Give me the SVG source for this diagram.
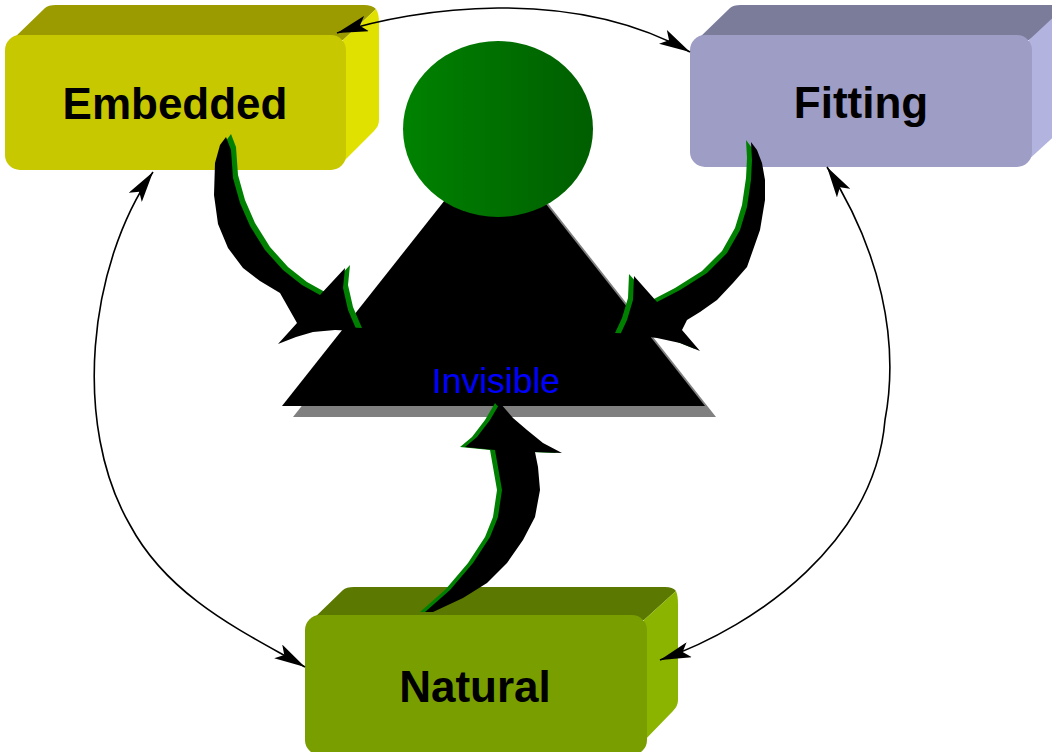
<svg xmlns="http://www.w3.org/2000/svg" width="1052" height="752" viewBox="0 0 1052 752">
  <style>
    .lbl { font-family: "Liberation Sans", Arial, sans-serif; font-weight: bold; font-size: 44px; fill: #000; text-anchor: middle; }
    .inv { font-family: "Liberation Sans", Arial, sans-serif; font-size: 35.5px; fill: #0000FF; text-anchor: middle; }
    .conn { fill: none; stroke: #000; stroke-width: 1.6; marker-start: url(#ah); marker-end: url(#ah); }
    .green { fill: #008000; }
    .black { fill: #000; }
  </style>
  <defs>
    <marker id="ah" viewBox="0 0 31 16" refX="31" refY="8" markerWidth="31" markerHeight="16" orient="auto-start-reverse" markerUnits="userSpaceOnUse">
      <path d="M31,8 L0,0 L7,8 L0,16 Z" fill="#000"/>
    </marker>
    <linearGradient id="ball" x1="0" y1="0" x2="1" y2="0">
      <stop offset="0" stop-color="#008200"/>
      <stop offset="1" stop-color="#005E00"/>
    </linearGradient>
  </defs>
  <rect width="1052" height="752" fill="#fff"/>

  <g id="invisible">
    <polygon points="293,417 505,149 716,417" fill="#808080"/>
    <polygon points="282,406 494,138 705,406" fill="#000"/>
    <ellipse cx="498" cy="129" rx="95" ry="88" fill="url(#ball)"/>
    <text class="inv" x="496" y="393">Invisible</text>
  </g>

  <g id="embedded">
    <path d="M12,40 L45,8 Q48,5 56,5 L364,5 Q372,5 376,9 L343,40 Z" fill="#9B9B00"/>
    <path d="M343,40 L376,9 Q379,14 379,22 L379,120 Q379,126 374,131 L340,165 Z" fill="#E1E100"/>
    <rect x="5" y="35" width="341" height="135" rx="15" fill="#C8C800"/>
    <text class="lbl" x="175" y="119">Embedded</text>
  </g>

  <g id="fitting">
    <path d="M697,40 L730,8 Q733,5 741,5 L1059,5 Q1067,5 1071,9 L1029,40 Z" fill="#7B7B9A"/>
    <path d="M1029,40 L1062,9 Q1065,14 1065,22 L1065,120 Q1065,126 1060,131 L1026,162 Z" fill="#B3B3E0"/>
    <rect x="690" y="35" width="342" height="132" rx="15" fill="#9D9DC5"/>
    <text class="lbl" x="861" y="118">Fitting</text>
  </g>

  <g id="natural">
    <path d="M312,620 L343,590 Q346,587 354,587 L665,587 Q673,587 676,591 L644,620 Z" fill="#5B7800"/>
    <path d="M644,620 L676,591 Q678,596 678,604 L678,700 Q678,706 673,711 L640,745 Z" fill="#8AB400"/>
    <rect x="305" y="615" width="342" height="140" rx="15" fill="#789E00"/>
    <text class="lbl" x="475" y="702">Natural</text>
  </g>

  <g id="connectors">
    <path class="conn" d="M337,33 C415,8 570,-15 690,52"/>
    <path class="conn" d="M153,172 C88,265 72,425 130,525 C170,600 250,635 305,667"/>
    <path class="conn" d="M827,167 C880,250 900,340 885,420 C875,540 760,625 660,660"/>

    <g id="arrow-embedded-invisible">
      <path class="green" transform="translate(5,-3)" d="M226,137 L231,150 L233,178 L240,203 L250,226 L265,250 L283,270 L302,285 L320,295 L345,268 L343,288 L348,310 L357,331 L335,330 L313,332 L296,337 L278,344 L297,323 L280,293 L260,281 L243,268 L228,248 L218,224 L214,195 L215,163 L220,145 Z"/>
      <path class="black" d="M226,137 L231,150 L233,178 L240,203 L250,226 L265,250 L283,270 L302,285 L320,295 L345,268 L343,288 L348,310 L357,331 L335,330 L313,332 L296,337 L278,344 L297,323 L280,293 L260,281 L243,268 L228,248 L218,224 L214,195 L215,163 L220,145 Z"/>
    </g>
    <g id="arrow-fitting-invisible">
      <path class="green" transform="translate(-5,-2)" d="M751,142 L757,150 L762,163 L765,180 L765,200 L760,230 L753,250 L747,267 L733,283 L717,300 L700,312 L687,320 L682,330 L700,351 L680,343 L657,338 L640,336 L620,335 L627,320 L633,300 L634,276 L657,302 L680,290 L707,273 L727,253 L740,230 L747,207 L751,180 L752,160 Z"/>
      <path class="black" d="M751,142 L757,150 L762,163 L765,180 L765,200 L760,230 L753,250 L747,267 L733,283 L717,300 L700,312 L687,320 L682,330 L700,351 L680,343 L657,338 L640,336 L620,335 L627,320 L633,300 L634,276 L657,302 L680,290 L707,273 L727,253 L740,230 L747,207 L751,180 L752,160 Z"/>
    </g>
    <g id="arrow-natural-invisible">
      <path class="green" transform="translate(-5,0)" d="M500,403 L513,418 L527,430 L543,443 L562,453 L535,452 L538,467 L540,490 L535,517 L523,540 L507,563 L487,583 L463,598 L433,612 L425,612 L450,590 L473,563 L490,537 L498,517 L502,490 L498,467 L495,450 L465,447 L477,437 L490,420 Z"/>
      <path class="black" d="M500,403 L513,418 L527,430 L543,443 L562,453 L535,452 L538,467 L540,490 L535,517 L523,540 L507,563 L487,583 L463,598 L433,612 L425,612 L450,590 L473,563 L490,537 L498,517 L502,490 L498,467 L495,450 L465,447 L477,437 L490,420 Z"/>
    </g>
  </g>
</svg>
